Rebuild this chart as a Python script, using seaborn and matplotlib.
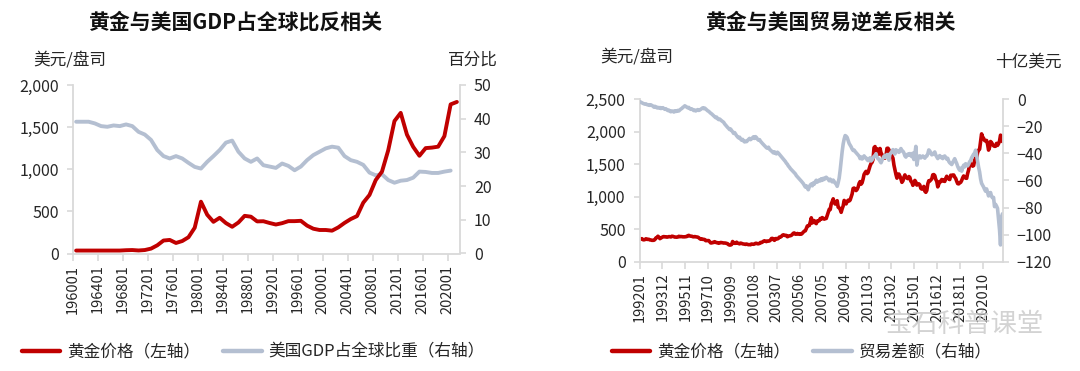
#!/usr/bin/env python3
# Gold vs US GDP share / US trade balance, two dual-axis line charts
import pandas as pd
import seaborn as sns
import matplotlib
matplotlib.use("Agg")
import matplotlib.pyplot as plt
from matplotlib.ticker import FuncFormatter, FixedLocator
from matplotlib.lines import Line2D

#---------------------------------------------------------
# DATA
#---------------------------------------------------------
# left chart: annual, 1960 - 2021 (labels as YYYY01)
years = list(range(1960, 2022))
gold_annual = [35, 35, 35, 35, 35, 35, 35, 35, 39, 41,
               36, 41, 58, 97, 154, 161, 125, 148, 193, 306,
               615, 460, 376, 424, 361, 317, 368, 447, 437, 381,
               383, 362, 344, 360, 384, 384, 388, 331, 294, 279,
               279, 271, 310, 363, 409, 444, 603, 695, 872, 972,
               1225, 1572, 1669, 1411, 1266, 1160, 1251, 1257, 1268, 1393,
               1770, 1799]
# US share of world GDP, %, 1960 - 2020
gdp_share = [39.1, 39.1, 39.1, 38.6, 37.8, 37.6, 38.0, 37.8, 38.3, 37.8,
             36.1, 35.3, 33.7, 30.7, 28.9, 28.2, 28.9, 28.2, 26.9, 25.7,
             25.2, 27.2, 28.9, 30.7, 32.9, 33.5, 30.2, 28.2, 27.2, 28.2,
             26.2, 25.8, 25.4, 26.7, 26.0, 24.7, 25.8, 27.7, 29.2, 30.2,
             31.2, 31.7, 31.4, 28.9, 27.7, 27.2, 26.3, 24.0, 23.2, 23.5,
             21.8, 21.0, 21.6, 21.8, 22.5, 24.3, 24.2, 23.9, 23.9, 24.3,
             24.6]

# right chart: monthly, 1992-01 - 2022-05
months = pd.period_range("1992-01", "2022-05", freq="M")
gold_monthly = [
    354, 354, 353, 338, 337, 341, 353, 343, 345, 344, 335, 334,
    329, 330, 330, 342, 367, 372, 392, 378, 355, 364, 374, 383,
    387, 382, 384, 378, 381, 386, 385, 381, 392, 390, 384, 379,
    379, 377, 382, 391, 385, 387, 386, 383, 383, 383, 386, 387,
    400, 405, 397, 393, 392, 385, 383, 387, 383, 381, 378, 369,
    355, 346, 352, 344, 344, 341, 324, 324, 323, 325, 306, 289,
    289, 297, 296, 308, 299, 292, 293, 284, 289, 296, 294, 291,
    287, 288, 286, 282, 277, 262, 256, 257, 265, 311, 293, 283,
    284, 300, 286, 280, 275, 286, 282, 275, 273, 270, 266, 272,
    266, 262, 263, 261, 272, 270, 268, 273, 283, 283, 276, 276,
    282, 296, 294, 303, 315, 322, 314, 310, 319, 317, 320, 333,
    357, 359, 340, 329, 355, 356, 351, 360, 379, 379, 389, 407,
    414, 405, 406, 404, 384, 392, 398, 400, 406, 420, 439, 442,
    424, 424, 434, 429, 422, 431, 424, 438, 456, 470, 476, 510,
    549, 555, 557, 610, 676, 596, 633, 632, 599, 586, 627, 629,
    631, 665, 655, 679, 667, 655, 665, 665, 712, 754, 806, 803,
    889, 923, 968, 909, 888, 890, 939, 839, 829, 806, 760, 816,
    858, 943, 924, 890, 928, 946, 934, 949, 996, 1043, 1127, 1134,
    1118, 1095, 1113, 1148, 1205, 1233, 1193, 1215, 1271, 1343, 1370, 1391,
    1356, 1372, 1424, 1474, 1511, 1529, 1573, 1756, 1772, 1665, 1739, 1652,
    1656, 1743, 1675, 1649, 1591, 1598, 1594, 1630, 1745, 1747, 1722, 1685,
    1671, 1628, 1593, 1487, 1414, 1343, 1286, 1347, 1349, 1316, 1276, 1222,
    1244, 1300, 1336, 1299, 1287, 1279, 1311, 1296, 1239, 1222, 1176, 1201,
    1251, 1227, 1179, 1198, 1198, 1181, 1128, 1118, 1125, 1159, 1086, 1068,
    1097, 1199, 1246, 1242, 1260, 1276, 1337, 1341, 1326, 1267, 1236, 1152,
    1192, 1234, 1231, 1266, 1246, 1260, 1236, 1283, 1315, 1280, 1283, 1265,
    1331, 1331, 1325, 1335, 1303, 1282, 1238, 1202, 1198, 1215, 1221, 1250,
    1291, 1320, 1301, 1286, 1284, 1359, 1413, 1500, 1510, 1495, 1471, 1480,
    1560, 1597, 1592, 1683, 1716, 1732, 1846, 1968, 1922, 1900, 1866, 1858,
    1867, 1808, 1718, 1760, 1850, 1834, 1807, 1785, 1776, 1777, 1821, 1790,
    1817, 1856, 1948, 1937, 1849]
# US trade balance, billion USD
trade_balance = [
    -1.8, -2.2, -2.6, -3.0, -3.3, -3.6, -3.4, -3.9, -4.2, -4.0, -4.5, -4.1,
    -4.6, -5.0, -5.8, -5.2, -5.6, -6.3, -6.0, -6.4, -6.1, -6.8, -6.5, -6.2,
    -6.9, -7.4, -7.0, -7.8, -8.3, -8.0, -8.8, -9.2, -8.6, -8.9, -9.4, -8.5,
    -9.0, -8.7, -8.2, -8.6, -7.9, -7.2, -6.8, -6.0, -5.5, -4.8, -5.3, -5.8,
    -6.3, -6.0, -6.9, -7.4, -7.1, -7.7, -8.3, -8.0, -8.6, -8.1, -7.6, -8.2,
    -7.9, -7.4, -6.8, -6.3, -6.9, -6.5, -7.2, -7.8, -8.5, -8.9, -9.6, -10.3,
    -10.8, -11.5, -12.3, -12.9, -13.6, -13.2, -14.4, -15.0, -14.6, -15.3, -15.9, -16.5,
    -17.0, -18.2, -19.1, -20.0, -20.8, -21.5, -22.4, -22.0, -23.1, -24.0, -25.2, -24.6,
    -25.8, -26.9, -27.8, -28.5, -28.0, -29.4, -30.2, -29.6, -30.8, -31.5, -30.9, -31.3,
    -30.4, -29.6, -28.9, -29.8, -29.2, -28.4, -27.7, -28.9, -27.6, -28.3, -29.5, -30.2,
    -29.8, -31.0, -31.9, -32.7, -33.5, -34.4, -35.1, -35.8, -36.2, -35.4, -36.8, -37.5,
    -38.2, -38.9, -39.6, -38.8, -39.9, -40.3, -39.1, -39.8, -40.7, -41.6, -42.5, -43.4,
    -44.3, -45.1, -46.0, -47.2, -48.0, -49.3, -50.1, -51.2, -52.0, -52.8, -53.6, -54.5,
    -55.1, -56.4, -57.2, -58.0, -58.8, -59.6, -60.5, -61.4, -62.3, -63.6, -64.8, -63.9,
    -65.5, -66.8, -64.7, -63.3, -62.6, -63.9, -61.8, -62.7, -60.9, -59.8, -61.2, -60.4,
    -59.6, -60.3, -58.7, -59.9, -58.4, -59.2, -58.0, -57.6, -58.3, -59.1, -60.2, -59.0,
    -60.1, -61.0, -59.7, -60.8, -61.9, -62.7, -64.3, -61.6, -58.2, -52.4, -45.3, -38.6,
    -33.1, -29.4, -26.8, -27.3, -28.2, -30.4, -32.6, -33.9, -35.1, -36.7, -37.8, -37.5,
    -38.6, -39.4, -40.3, -41.2, -42.0, -43.8, -42.6, -44.1, -43.5, -41.8, -42.9, -43.3,
    -44.6, -45.3, -44.1, -43.2, -45.6, -44.8, -43.5, -42.1, -41.7, -40.2, -42.8, -43.9,
    -44.3, -45.8, -46.9, -45.2, -43.4, -42.1, -41.6, -42.9, -40.8, -42.2, -45.0, -40.3,
    -39.6, -38.4, -37.2, -39.8, -40.4, -37.3, -38.6, -37.9, -39.2, -38.3, -36.4, -37.9,
    -38.4, -39.6, -41.8, -42.7, -41.2, -40.5, -41.3, -40.1, -41.6, -42.4, -39.8, -44.5,
    -40.7, -34.8, -48.6, -44.2, -42.1, -41.8, -43.3, -42.6, -41.9, -42.7, -43.5, -42.2,
    -41.9, -40.3, -37.4, -38.2, -39.6, -41.0, -40.7, -39.8, -38.9, -41.2, -42.5, -43.8,
    -42.4, -41.6, -43.0, -42.7, -43.8, -42.3, -41.9, -43.1, -44.2, -43.6, -45.8, -46.9,
    -47.5, -48.2, -46.7, -45.3, -43.9, -45.8, -47.4, -49.6, -51.2, -52.4, -50.9, -53.1,
    -50.4, -48.7, -49.9, -47.6, -48.8, -49.2, -47.9, -46.1, -45.3, -43.2, -41.9, -40.6,
    -39.8, -37.6, -41.4, -45.8, -50.2, -53.6, -58.8, -62.1, -63.4, -64.8, -66.5, -67.9,
    -66.2, -68.7, -71.4, -69.3, -68.9, -71.7, -72.8, -72.5, -79.3, -77.6, -78.9, -80.6,
    -88.4, -96.2, -107.6, -86.8, -84.6]

RED = "#C00000"
GREY = "#B4BFD1"
AXIS = "#D9D9D9"
TXT = "#262626"

#---------------------------------------------------------
# SCRIPT
#---------------------------------------------------------
sns.set_theme(style="white")
plt.rcParams["font.family"] = ["Noto Sans CJK SC", "DejaVu Sans"]
plt.rcParams["axes.unicode_minus"] = True

W, H = 1080, 371
fig = plt.figure(figsize=(W / 100, H / 100), dpi=100)


def px_axes(x0, x1, y0, y1):
    # pixel box -> figure fraction
    return fig.add_axes([x0 / W, 1 - y1 / H, (x1 - x0) / W, (y1 - y0) / H])


def style(ax, axr):
    for a in (ax, axr):
        for s in a.spines.values():
            s.set_visible(False)
        a.set_xlabel("")
        a.set_ylabel("")
    ax.spines["left"].set_visible(True)
    ax.spines["bottom"].set_visible(True)
    axr.spines["right"].set_visible(True)
    for s in (ax.spines["left"], ax.spines["bottom"], axr.spines["right"]):
        s.set_color(AXIS)
        s.set_linewidth(1.3)
    ax.tick_params(axis="y", direction="out", length=4, width=1.2, color=AXIS,
                   labelsize=11.5, labelcolor=TXT, pad=6, left=True)
    axr.tick_params(axis="y", direction="out", length=4, width=1.2, color=AXIS,
                    labelsize=11.5, labelcolor=TXT, pad=6, right=True)
    ax.tick_params(axis="x", direction="out", length=5, width=1.2, color=AXIS,
                   labelsize=10.5, labelcolor=TXT, pad=3, bottom=True)
    for lab in ax.get_xticklabels():
        lab.set_rotation(90)


comma = FuncFormatter(lambda v, p: f"{int(v):,}")

# ---- left chart
df1 = pd.DataFrame({"i": range(len(years)), "gold": gold_annual})
df2 = pd.DataFrame({"i": range(len(gdp_share)), "gdp": gdp_share})
ax1 = px_axes(73, 460, 85, 253.5)
ax1r = ax1.twinx()
sns.lineplot(data=df1, x="i", y="gold", ax=ax1, color=RED, lw=2.8)
sns.lineplot(data=df2, x="i", y="gdp", ax=ax1r, color=GREY, lw=2.8)
ax1.set_zorder(ax1r.get_zorder() + 1)
ax1.patch.set_visible(False)
ax1.set_xlim(-0.5, len(years) - 0.5)
ax1.set_ylim(0, 2000)
ax1r.set_ylim(0, 50)
ax1.set_yticks(range(0, 2001, 500))
ax1.yaxis.set_major_formatter(comma)
ax1r.set_yticks(range(0, 51, 10))
tick_idx = list(range(0, len(years), 4))
ax1.xaxis.set_major_locator(FixedLocator([i - 0.5 for i in tick_idx]))
ax1.set_xticklabels([f"{years[i]}01" for i in tick_idx])
style(ax1, ax1r)

# ---- right chart
df3 = pd.DataFrame({"i": range(len(months)), "gold": gold_monthly,
                    "trade": trade_balance})
ax2 = px_axes(639.5, 1003, 99.3, 261.7)
ax2r = ax2.twinx()
sns.lineplot(data=df3, x="i", y="trade", ax=ax2r, color=GREY, lw=2.6)
sns.lineplot(data=df3, x="i", y="gold", ax=ax2, color=RED, lw=2.6)
ax2.set_xlim(-0.5, len(months) - 0.5)
ax2.set_ylim(0, 2500)
ax2r.set_ylim(-120, 0)
ax2.set_yticks(range(0, 2501, 500))
ax2.yaxis.set_major_formatter(comma)
ax2r.set_yticks(range(-120, 1, 20))
tick_idx = list(range(0, len(months), 23))
ax2.xaxis.set_major_locator(FixedLocator([i - 0.5 for i in tick_idx]))
ax2.set_xticklabels([months[i].strftime("%Y%m") for i in tick_idx])
style(ax2, ax2r)

# ---- titles and unit labels
fig.text(235 / W, 1 - 22 / H, "黄金与美国GDP占全球比反相关", ha="center",
         va="center", fontsize=15, fontweight="bold", color="#111111")
fig.text(830 / W, 1 - 22 / H, "黄金与美国贸易逆差反相关", ha="center",
         va="center", fontsize=15, fontweight="bold", color="#111111")
fig.text(33 / W, 1 - 60 / H, "美元/盘司", ha="left", va="center", fontsize=12, color=TXT)
fig.text(498 / W, 1 - 60 / H, "百分比", ha="right", va="center", fontsize=12, color=TXT)
fig.text(600 / W, 1 - 57 / H, "美元/盘司", ha="left", va="center", fontsize=12, color=TXT)
fig.text(1062 / W, 1 - 62 / H, "十亿美元", ha="right", va="center", fontsize=12, color=TXT)

# watermark
fig.text(885 / W, 1 - 325 / H, "宝石科普课堂", ha="left", va="center",
         fontsize=19, color="#C8C8C8", alpha=0.8)

# ---- legends
def legend(x, labels):
    handles = [Line2D([], [], color=RED, lw=3.2), Line2D([], [], color=GREY, lw=3.2)]
    fig.legend(handles, labels, loc="center left", bbox_to_anchor=(x / W, 1 - 352 / H),
               ncol=2, frameon=False, fontsize=12, handlelength=2.3,
               handletextpad=0.4, columnspacing=1.4, borderpad=0, borderaxespad=0,
               labelcolor=TXT)

legend(22, ["黄金价格（左轴）", "美国GDP占全球比重（右轴）"])
legend(612, ["黄金价格（左轴）", "贸易差额（右轴）"])

fig.savefig("out.png", dpi=100)
